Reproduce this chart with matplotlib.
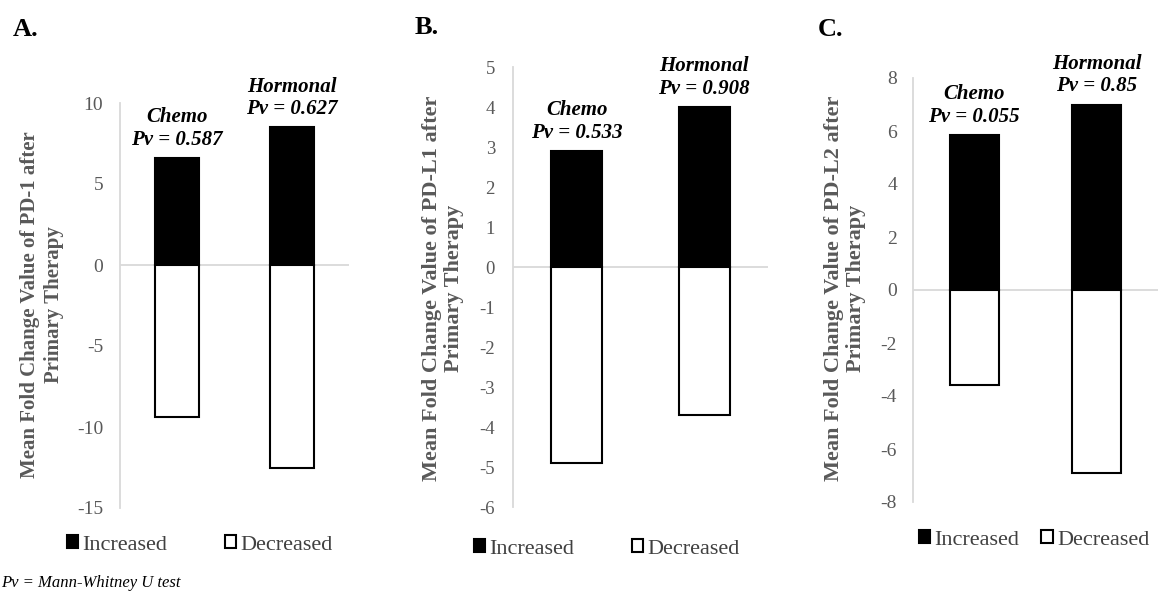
import matplotlib
matplotlib.use("Agg")
import matplotlib.pyplot as plt

plt.rcParams['font.family'] = ['Liberation Serif', 'DejaVu Serif']
plt.rcParams['axes.unicode_minus'] = False

categories = ["Chemo", "Hormonal"]
panel_letters = ["A.", "B.", "C."]
markers = ["PD-1", "PD-L1", "PD-L2"]
increased = [[6.6, 8.5], [2.9, 4.0], [5.85, 7.0]]
decreased = [[-9.4, -12.5], [-4.9, -3.7], [-3.6, -6.9]]
pvalues = [["0.587", "0.627"], ["0.533", "0.908"], ["0.055", "0.85"]]
ylims = [(-15, 10), (-6, 5), (-8, 8)]
yticks = [list(range(-15, 11, 5)), list(range(-6, 6, 1)), list(range(-8, 9, 2))]

fig = plt.figure(figsize=(11.61, 5.92), dpi=100)
W, H = 1161, 592

# axes boxes in pixels: left, right, top(y at ylim max), bottom(y at ylim min)
boxes = [(120, 349, 103, 508), (513, 768, 67, 507), (913, 1158, 78, 502)]
bar_w = [0.385, 0.4, 0.4]
tick_fs = [14, 13.5, 14]
tick_pad = [12, 13, 11.5]
ann_fs = [15, 15, 15]
ylab_x = [42, 443, 845]
ylab_y = [305, 288, 288]
ylab_fs = [15, 16, 16]
letter_pos = [(13, 30), (415, 28), (818, 30)]
leg_pos = [(200, 545), (607, 549), (1034, 540)]
leg_colsp = [2.6, 2.6, 1.0]
gray = "#595959"

for i in range(3):
    l, r, t, b = boxes[i]
    ax = fig.add_axes([l / W, 1 - b / H, (r - l) / W, (b - t) / H])
    x = list(range(len(categories)))
    h1 = ax.bar(x, increased[i], width=bar_w[i], color="black", edgecolor="black",
                linewidth=1.5, label="Increased", zorder=3)
    h2 = ax.bar(x, decreased[i], width=bar_w[i], color="white", edgecolor="black",
                linewidth=1.5, label="Decreased", zorder=3)
    ax.set_xlim(-0.5, 1.5)
    ax.set_ylim(*ylims[i])
    ax.set_yticks(yticks[i])
    ax.set_xticks([])
    ax.axhline(0, color="#d9d9d9", linewidth=1.3, zorder=1)
    for s in ["top", "right", "bottom"]:
        ax.spines[s].set_visible(False)
    ax.spines["left"].set_color("#d9d9d9")
    ax.spines["left"].set_linewidth(1.3)
    ax.tick_params(axis="y", length=0, pad=tick_pad[i], labelsize=tick_fs[i], labelcolor=gray)
    ax.patch.set_alpha(0)
    for j, cat in enumerate(categories):
        ax.annotate(f"{cat}\nPv = {pvalues[i][j]}", xy=(j, increased[i][j]),
                    xytext=(0, 6), textcoords="offset points", ha="center", va="bottom",
                    fontsize=ann_fs[i], fontweight="bold", fontstyle="italic",
                    linespacing=1.15, annotation_clip=False)
    fig.text(ylab_x[i] / W, 1 - ylab_y[i] / H,
             f"Mean Fold Change Value of {markers[i]} after\nPrimary Therapy",
             rotation=90, ha="center", va="center", multialignment="center",
             fontsize=ylab_fs[i], fontweight="bold", color=gray, linespacing=1.2)
    lx, ly = letter_pos[i]
    fig.text(lx / W, 1 - ly / H, panel_letters[i], ha="left", va="center",
             fontsize=19, fontweight="bold")
    px, py = leg_pos[i]
    leg = fig.legend(handles=[h1, h2], loc="center", bbox_to_anchor=(px / W, 1 - py / H),
                     ncol=2, frameon=False, fontsize=16, handlelength=0.5, handleheight=0.5,
                     handletextpad=0.2, columnspacing=leg_colsp[i], borderpad=0)
    for txt in leg.get_texts():
        txt.set_color("#404040")

fig.text(1 / W, 1 - 583 / H, "Pv = Mann-Whitney U test", ha="left", va="center",
         fontsize=12, fontstyle="italic")

fig.savefig("out.png", dpi=100)
